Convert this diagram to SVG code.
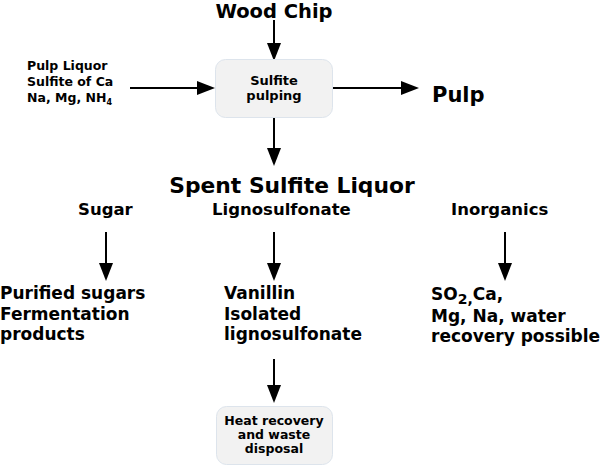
<svg xmlns="http://www.w3.org/2000/svg" width="600" height="465" viewBox="0 0 600 465">
<style>
text{font-family:"DejaVu Sans","Verdana",sans-serif;font-weight:bold;fill:#000}
.box{fill:#f2f2f2;stroke:#dde4ec;stroke-width:1}
.c{stroke:#000;stroke-width:2;fill:none}
.s12{font-size:12.5px}
.s13{font-size:12.5px}
.s17{font-size:17px}
.s16{font-size:16.5px}
.m{text-anchor:middle}
</style>
<defs>
<marker id="ah" markerUnits="userSpaceOnUse" viewBox="0 0 18 14" markerWidth="18" markerHeight="14" refX="0" refY="7" orient="auto">
<path d="M0,0 L18,7 L0,14 Z" fill="#000"/>
</marker>
</defs>
<rect width="600" height="465" fill="#fff"/>
<g id="connectors">
<line class="c" x1="274" y1="20" x2="274" y2="43" marker-end="url(#ah)"/>
<line class="c" x1="130" y1="88" x2="197" y2="88" marker-end="url(#ah)"/>
<line class="c" x1="333" y1="88" x2="401" y2="88" marker-end="url(#ah)"/>
<line class="c" x1="274" y1="118" x2="274" y2="148" marker-end="url(#ah)"/>
<line class="c" x1="106" y1="232" x2="106" y2="263" marker-end="url(#ah)"/>
<line class="c" x1="274" y1="232" x2="274" y2="263" marker-end="url(#ah)"/>
<line class="c" x1="505" y1="232" x2="505" y2="263" marker-end="url(#ah)"/>
<line class="c" x1="274" y1="359" x2="274" y2="385" marker-end="url(#ah)"/>
</g>
<g id="wood-chip"><text x="274" y="18" class="m" font-size="19.5">Wood Chip</text></g>
<g id="pulp-liquor"><text class="s13" x="27" y="70">Pulp Liquor</text><text class="s13" x="27" y="86">Sulfite of Ca</text><text class="s13" x="27" y="102">Na, Mg, NH<tspan font-size="8" dy="3">4</tspan></text></g>
<g id="sulfite-pulping"><rect class="box" x="215.5" y="59.5" width="117" height="58" rx="10"/><text class="m" font-size="13" x="274" y="85">Sulfite</text><text class="m" font-size="13" x="274" y="100">pulping</text></g>
<g id="pulp"><text x="432" y="102" font-size="21">Pulp</text></g>
<g id="spent-sulfite-liquor"><text x="292" y="193" class="m" font-size="21.8">Spent Sulfite Liquor</text></g>
<g id="sugar"><text class="s16" x="78" y="215">Sugar</text></g>
<g id="lignosulfonate"><text class="s16" x="212" y="215">Lignosulfonate</text></g>
<g id="inorganics"><text class="s16" x="451" y="215">Inorganics</text></g>
<g id="purified-sugars"><text class="s17" x="0" y="299">Purified sugars</text><text class="s17" x="0" y="320">Fermentation</text><text class="s17" x="0" y="340">products</text></g>
<g id="vanillin"><text class="s17" x="224" y="299">Vanillin</text><text class="s17" x="224" y="320">Isolated</text><text class="s17" x="224" y="340">lignosulfonate</text></g>
<g id="so2"><text class="s17" x="431" y="300">SO<tspan font-size="14" dy="4">2,</tspan><tspan dy="-4">Ca,</tspan></text><text class="s17" x="431" y="322">Mg, Na, water</text><text class="s17" x="431" y="342">recovery possible</text></g>
<g id="heat-recovery"><rect class="box" x="216.5" y="406.5" width="116" height="58" rx="10"/><text class="s12 m" x="274" y="425">Heat recovery</text><text class="s12 m" x="274" y="439">and waste</text><text class="s12 m" x="274" y="453">disposal</text></g>
</svg>
